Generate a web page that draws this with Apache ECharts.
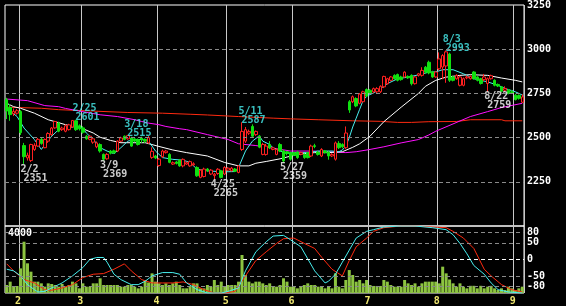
<!DOCTYPE html>
<html><head><meta charset="utf-8">
<script src="https://cdn.jsdelivr.net/npm/echarts@6/dist/echarts.min.js"></script>
<style>html,body{margin:0;padding:0;background:#000;}#c{width:566px;height:306px;}</style>
</head><body><div id="c"></div>
<script>
// Trading days (2022, Tokyo market)
const daysJan = [26,27,28,31];
const daysFeb = [1,2,3,4,7,8,9,10,14,15,16,17,18,21,22,24,25,28];
const daysMar = [1,2,3,4,7,8,9,10,11,14,15,16,17,18,22,23,24,25,28,29,30,31];
const daysApr = [1,4,5,6,7,8,11,12,13,14,15,18,19,20,21,22,25,26,27,28];
const daysMay = [2,6,9,10,11,12,13,16,17,18,19,20,23,24,25,26,27,30,31];
const daysJun = [1,2,3,6,7,8,9,10,13,14,15,16,17,20,21,22,23,24,27,28,29,30];
const daysJul = [1,4,5,6,7,8,11,12,13,14,15,19,20,21,22,25,26,27,28,29];
const daysAug = [1,2,3,4,5,8,9,10,12,15,16,17,18,19,22,23,24,25,26,29,30,31];
const daysSep = [1,2,5];

const openP = [2715,2670,2635,2638,2648,2455,2385,2370,2433,2452, 2490,2443,2480,2517,2555,2582,2545,2536,2545,2560, 2595,2567,2555,2508,2490,2474,2448,2461,2405,2380, 2424,2425,2424,2480,2508,2493,2498,2493,2489,2498, 2490,2470,2388,2396,2342,2392,2415,2405,2350,2362, 2372,2340,2350,2340,2346,2331,2275,2280,2322,2294, 2285,2297,2312,2294,2316,2312,2322,2303,2433,2480, 2525,2563,2517,2508,2405,2405,2461,2433,2405,2461, 2424,2420,2415,2415,2418,2406,2405,2415,2396,2454, 2418,2396,2424,2418,2396,2378,2467,2461,2443,2703, 2703,2721,2694,2703,2772,2768,2759,2759,2759,2787, 2805,2824,2852,2857,2843,2843,2846,2852,2805,2852, 2852,2898,2926,2871,2843,2889,2899,2905,2973,2843, 2833,2796,2796,2838,2833,2871,2843,2833,2828,2806, 2833,2824,2800,2787,2768,2768,2759,2740,2738,2700];
const closeP = [2650,2630,2648,2652,2528,2392,2400,2461,2456,2490, 2467,2489,2523,2554,2591,2536,2554,2567,2572,2597, 2545,2550,2530,2493,2508,2493,2470,2424,2378,2405, 2412,2414,2480,2498,2490,2511,2452,2480,2461,2489, 2480,2500,2422,2385,2378,2424,2424,2360,2358,2354, 2340,2377,2358,2364,2352,2284,2316,2322,2313,2316, 2293,2321,2275,2331,2327,2327,2310,2340,2535,2545, 2535,2508,2535,2446,2461,2452,2442,2442,2433,2424, 2368,2410,2378,2400,2387,2415,2387,2387,2452,2450, 2405,2433,2415,2396,2405,2470,2443,2448,2526,2656, 2731,2679,2746,2759,2735,2753,2777,2777,2790,2846, 2833,2843,2833,2824,2828,2870,2838,2805,2843,2861, 2880,2870,2866,2843,2871,2945,2964,2985,2824,2824, 2852,2843,2833,2843,2846,2833,2824,2806,2843,2833, 2850,2796,2792,2762,2778,2750,2755,2715,2722,2730];
const lowP = [2605,2595,2622,2630,2515,2351,2370,2362,2425,2448, 2460,2440,2470,2510,2550,2530,2538,2530,2540,2555, 2538,2540,2522,2488,2485,2465,2440,2415,2369,2375, 2405,2408,2418,2475,2485,2488,2448,2475,2455,2470, 2470,2465,2380,2378,2335,2385,2410,2355,2345,2348, 2335,2332,2345,2335,2340,2278,2270,2275,2305,2288, 2265,2290,2270,2288,2310,2308,2305,2298,2425,2470, 2515,2500,2510,2440,2400,2398,2435,2428,2400,2418, 2359,2400,2370,2395,2380,2400,2380,2382,2390,2440, 2398,2390,2410,2375,2390,2370,2435,2440,2435,2640, 2695,2672,2688,2698,2728,2745,2752,2750,2752,2780, 2800,2818,2828,2818,2822,2838,2832,2795,2800,2845, 2845,2862,2858,2838,2838,2880,2830,2810,2815,2818, 2828,2790,2790,2830,2828,2828,2818,2800,2820,2759, 2828,2790,2786,2756,2760,2745,2748,2710,2715,2697];
const highP = [2725,2690,2665,2662,2655,2470,2415,2465,2468,2498, 2500,2495,2530,2560,2595,2590,2562,2575,2578,2599, 2601,2575,2565,2515,2512,2500,2478,2468,2410,2412, 2430,2432,2485,2505,2512,2515,2505,2500,2495,2505, 2495,2510,2445,2402,2385,2432,2430,2412,2365,2368, 2378,2382,2365,2370,2360,2338,2322,2330,2328,2322, 2300,2327,2318,2338,2333,2334,2328,2345,2587,2560, 2545,2575,2540,2515,2470,2465,2480,2448,2440,2470, 2430,2425,2420,2420,2425,2420,2410,2420,2460,2465, 2425,2440,2430,2425,2412,2478,2480,2468,2563,2712, 2738,2728,2752,2765,2778,2775,2783,2785,2796,2850, 2838,2848,2858,2862,2850,2875,2852,2858,2848,2866, 2898,2905,2935,2878,2876,2982,2972,2993,2980,2850, 2858,2850,2840,2852,2852,2876,2848,2838,2860,2840, 2856,2830,2806,2792,2790,2775,2770,2748,2745,2745];
const volume = [533,756,422,466,1640,3420,1978,1422,756,756, 644,422,644,600,533,422,600,422,533,756, 644,311,644,422,422,644,644,980,533,533, 533,533,533,422,422,533,533,422,311,422, 867,700,1310,756,644,533,644,533,644,756, 533,311,311,422,644,644,311,311,533,422, 867,533,756,422,533,533,533,756,2533,1200, 756,644,756,756,644,533,644,422,422,533, 980,756,422,422,311,422,533,644,533,533, 422,422,311,422,311,1310,422,311,867,1530, 1200,756,867,644,867,533,470,470,470,867, 756,533,422,422,422,867,644,533,644,422, 644,756,756,756,756,644,1755,1310,900,644, 422,644,422,311,480,480,311,480,311,422, 480,311,200,311,200,422,311,200,311,422];

// moving averages: [day index, price]
const maShort = [[0,2666],[3,2619],[5,2554],[8,2489],[10,2433],[11,2460],[13,2508],[15,2545],[17,2554],[20,2563],[22,2554],[23,2526],[25,2489],[27,2443],[29,2424],[31,2409],[33,2443],[35,2480],[37,2489],[39,2489],[41,2480],[43,2424],[45,2387],[48,2377],[51,2372],[53,2359],[55,2321],[58,2312],[61,2308],[64,2307],[66,2308],[67,2331],[69,2424],[71,2480],[73,2510],[74,2480],[76,2461],[77,2442],[79,2424],[81,2410],[83,2415],[87,2415],[90,2424],[94,2424],[96,2420],[97,2430],[98,2452],[99,2500],[100,2560],[101,2610],[102,2660],[103,2710],[104,2735],[106,2752],[108,2777],[110,2805],[113,2833],[116,2842],[119,2855],[122,2870],[124,2872],[126,2884],[129,2884],[132,2861],[135,2833],[139,2815],[142,2796],[144,2778],[147,2759],[149,2741]];
const ma25 = [[0,2694],[2,2675],[4,2666],[8,2638],[12,2601],[17,2573],[21,2558],[25,2526],[27,2502],[30,2484],[33,2471],[37,2471],[40,2471],[44,2450],[48,2430],[52,2415],[58,2396],[63,2359],[67,2340],[70,2340],[72,2355],[75,2365],[79,2380],[84,2405],[89,2415],[93,2415],[97,2420],[100,2445],[102,2465],[105,2508],[109,2590],[114,2672],[119,2750],[121,2790],[124,2824],[127,2842],[131,2852],[134,2856],[139,2852],[143,2837],[147,2824],[149,2815]];
const ma75 = [[0,2718],[6,2709],[11,2681],[15,2675],[17,2665],[21,2650],[27,2629],[32,2619],[37,2601],[39,2591],[41,2582],[44,2573],[46,2563],[50,2550],[52,2545],[58,2517],[64,2489],[67,2465],[72,2455],[77,2440],[82,2424],[88,2424],[93,2420],[98,2415],[101,2420],[105,2433],[109,2448],[114,2470],[119,2489],[122,2515],[124,2536],[134,2619],[139,2647],[143,2670],[149,2694]];
const ma200 = [[0,2672],[5,2669],[10,2666],[15,2658],[25,2650],[35,2642],[45,2638],[53,2632],[58,2628],[67,2619],[77,2610],[82,2606],[90,2601],[100,2595],[108,2592],[113,2586],[117,2586],[122,2590],[130,2591],[134,2601],[143,2601],[144,2595],[149,2595]];

// oscillator lines (lower panel), [day index, value]
const oscCyan = [[0,-29],[2,-34],[4,-49],[6,-75],[8,-90],[9,-97],[11,-95],[13,-85],[16,-70],[19,-49],[22,-24],[24,0],[26,6],[28,6],[29,-8],[31,-44],[33,-60],[36,-75],[38,-75],[40,-65],[42,-49],[45,-39],[48,-39],[50,-44],[52,-70],[55,-90],[58,-100],[62,-100],[64,-95],[67,-85],[69,-34],[72,23],[75,53],[77,70],[80,72],[82,59],[85,38],[87,2],[89,-34],[92,-70],[93,-65],[95,-44],[97,-8],[99,28],[101,64],[104,84],[106,89],[109,97],[114,100],[118,100],[123,95],[127,89],[129,74],[131,48],[133,17],[135,-18],[138,-44],[140,-70],[142,-90],[145,-97],[149,-100]];
const oscRed = [[0,-13],[2,-34],[5,-60],[8,-70],[11,-90],[13,-92],[16,-85],[19,-75],[22,-54],[25,-44],[28,-42],[31,-29],[34,-13],[36,-34],[39,-60],[42,-70],[45,-70],[48,-70],[51,-67],[54,-75],[57,-90],[60,-100],[63,-100],[66,-95],[69,-49],[72,-3],[75,23],[78,48],[80,62],[83,64],[86,48],[89,33],[91,7],[94,-29],[97,-49],[99,-3],[101,38],[104,64],[106,84],[109,95],[114,100],[118,100],[123,97],[127,95],[129,84],[132,64],[135,33],[138,-29],[140,-49],[143,-75],[146,-90],[149,-97]];

// price reference lines & oscillator levels
const priceTicks = [2250,2500,2750,3000];
const oscLevels = [80,50,0,-50,-80];

// annotations
const annIndex = [5,20,28,35,60,68,80,127,139];
const annDate  = ['2/2','2/25','3/9','3/18','4/25','5/11','5/27','8/3','8/22'];
const annPrice = [2351,2601,2369,2515,2265,2587,2359,2993,2759];
const annType  = ['low','high','low','high','low','high','low','high','low'];

// ---- build ----
const monthLists = [[1,daysJan],[2,daysFeb],[3,daysMar],[4,daysApr],[5,daysMay],[6,daysJun],[7,daysJul],[8,daysAug],[9,daysSep]];
const cats = [];
monthLists.forEach(([m, ds]) => ds.forEach(d => cats.push(m + '/' + d)));
const monthStart = (idx) => idx > 0 && cats[idx].split('/')[0] !== cats[idx-1].split('/')[0];

const candles = openP.map((o, i) => [o, closeP[i], lowP[i], highP[i]]);
const FONT = 'DejaVu Sans Mono';
const CYAN = '#48f0f0';

const annData = annIndex.map((ix, k) => {
  const hi = annType[k] === 'high';
  const col = hi ? CYAN : '#ffffff';
  return {
    value: [ix, annPrice[k]],
    label: {
      show: true, align: 'left', verticalAlign: 'top',
      position: hi ? [-3, -15] : [-3, 1],
      formatter: '{d|' + annDate[k] + '}\n{p|' + annPrice[k] + '}',
      rich: {
        d: {color: col, fontFamily: FONT, fontSize: 10, fontWeight: 'bold', lineHeight: 9},
        p: {color: col, fontFamily: FONT, fontSize: 10, fontWeight: 'bold', lineHeight: 9, padding: [0,0,0,3]}
      }
    }
  };
});

const vLine = {show: true, interval: (i) => monthStart(i), lineStyle: {color: '#c8c8c8', width: 1}};

const option = {
  backgroundColor: '#000',
  animation: false,
  grid: [
    {left: 5, top: 2, width: 519, height: 224, show: true, borderColor: '#ffffff', borderWidth: 1, backgroundColor: 'transparent'},
    {left: 5, top: 226, width: 519, height: 67, show: true, borderColor: '#ffffff', borderWidth: 1, backgroundColor: 'transparent'}
  ],
  xAxis: [
    {type: 'category', gridIndex: 0, data: cats, boundaryGap: true,
     axisLine: {show: false}, axisTick: {show: false}, axisLabel: {show: false}, splitLine: vLine},
    {type: 'category', gridIndex: 1, data: cats, boundaryGap: true,
     axisLine: {show: false}, axisTick: {show: false}, splitLine: vLine,
     axisLabel: {show: true, interval: (i) => monthStart(i), formatter: (v) => v.split('/')[0],
                 color: '#f0e870', fontFamily: FONT, fontSize: 10, fontWeight: 'bold', margin: 3, padding: [0, 5, 0, 0]}}
  ],
  yAxis: [
    {type: 'value', gridIndex: 0, position: 'right', min: 2000, max: 3250, interval: 250,
     axisLine: {show: false}, axisTick: {show: false}, splitLine: {show: false},
     axisLabel: {color: '#fff', fontFamily: FONT, fontSize: 10, fontWeight: 'bold', margin: 3,
                 formatter: (v) => v === 2000 ? '' : String(v)}},
    {type: 'value', gridIndex: 1, position: 'left', min: 0, max: 4467, interval: 4000,
     axisLine: {show: false}, axisTick: {show: false}, splitLine: {show: false},
     axisLabel: {inside: true, color: '#fff', fontFamily: FONT, fontSize: 10, fontWeight: 'bold', margin: 3,
                 formatter: (v) => v === 4000 ? '4000' : ''}},
    {type: 'value', gridIndex: 1, position: 'right', min: -100, max: 100,
     axisLine: {show: false}, axisTick: {show: false}, splitLine: {show: false}, axisLabel: {show: false}}
  ],
  series: [
    {type: 'line', xAxisIndex: 0, yAxisIndex: 0, data: ma200, symbol: 'none', z: 2,
     lineStyle: {color: '#ff2a10', width: 1},
     markLine: {silent: true, symbol: 'none', label: {show: false},
       lineStyle: {color: '#8a8a8a', type: [4, 3], width: 1},
       data: priceTicks.map(v => ({yAxis: v}))}},
    {type: 'line', xAxisIndex: 0, yAxisIndex: 0, data: ma75, symbol: 'none', z: 2,
     lineStyle: {color: '#ff10ff', width: 1}},
    {type: 'line', xAxisIndex: 0, yAxisIndex: 0, data: ma25, symbol: 'none', z: 2,
     lineStyle: {color: '#ffffff', width: 1}},
    {type: 'line', xAxisIndex: 0, yAxisIndex: 0, data: maShort, symbol: 'none', z: 2,
     lineStyle: {color: CYAN, width: 1}},
    {type: 'candlestick', xAxisIndex: 0, yAxisIndex: 0, data: candles, barWidth: 3, z: 3,
     itemStyle: {color: '#000000', color0: '#10e010', borderColor: '#ff2020', borderColor0: '#10e010', borderWidth: 1}},
    {type: 'scatter', xAxisIndex: 0, yAxisIndex: 0, data: annData, symbolSize: 1, z: 4,
     itemStyle: {color: 'rgba(0,0,0,0)'}},
    {type: 'bar', xAxisIndex: 1, yAxisIndex: 1, data: volume, barWidth: 3, z: 1,
     itemStyle: {color: '#8cc440'}},
    {type: 'line', xAxisIndex: 1, yAxisIndex: 2, data: oscRed, symbol: 'none', z: 3,
     lineStyle: {color: '#ff2a10', width: 1},
     markLine: {silent: true, symbol: 'none',
       data: oscLevels.map(v => ({yAxis: v,
         lineStyle: {color: v === 0 ? '#ffffff' : '#8a8a8a', type: [4, 3], width: 1},
         label: {show: true, position: 'end', distance: 3, formatter: String(v), color: '#fff', fontFamily: FONT, fontSize: 10, fontWeight: 'bold'}}))}},
    {type: 'line', xAxisIndex: 1, yAxisIndex: 2, data: oscCyan, symbol: 'none', z: 3,
     lineStyle: {color: CYAN, width: 1}}
  ]
};
const chart = echarts.init(document.getElementById('c'), null, {renderer: 'canvas'});
chart.setOption(option);
</script></body></html>
